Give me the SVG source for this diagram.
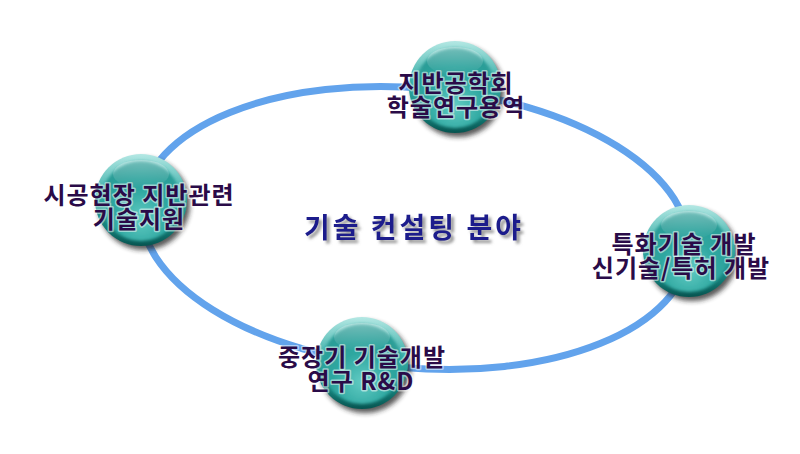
<svg xmlns="http://www.w3.org/2000/svg" width="800" height="454" viewBox="0 0 800 454">
<defs>
  <linearGradient id="rim" x1="0" y1="0" x2="0" y2="1">
    <stop offset="0" stop-color="#B4E8E4"/>
    <stop offset="0.45" stop-color="#35ADA6"/>
    <stop offset="0.8" stop-color="#147E78"/>
    <stop offset="1" stop-color="#075450"/>
  </linearGradient>
  <radialGradient id="face" cx="0.5" cy="0.72" r="0.65">
    <stop offset="0" stop-color="#62CBC3"/>
    <stop offset="0.55" stop-color="#2EA7A0"/>
    <stop offset="1" stop-color="#2A9C96"/>
  </radialGradient>
  <linearGradient id="gloss" x1="0" y1="0" x2="0" y2="1">
    <stop offset="0" stop-color="#FFFFFF" stop-opacity="0.35"/>
    <stop offset="1" stop-color="#FFFFFF" stop-opacity="0"/>
  </linearGradient>
  <filter id="blur" x="-30%" y="-30%" width="160%" height="160%">
    <feGaussianBlur stdDeviation="2.5"/>
  </filter>
  <filter id="inner" x="-20%" y="-20%" width="140%" height="140%">
    <feGaussianBlur stdDeviation="1.5"/>
  </filter>
  <filter id="tshadow" x="-10%" y="-30%" width="120%" height="160%">
    <feDropShadow dx="3" dy="3" stdDeviation="1.5" flood-color="#8A8A8A" flood-opacity="0.9"/>
  </filter>
  <g id="ball">
    <circle cx="3" cy="4" r="46" fill="#222" opacity="0.75" filter="url(#blur)"/>
    <circle cx="0" cy="0" r="46" fill="url(#rim)"/>
    <circle cx="0" cy="1" r="40" fill="url(#face)" filter="url(#inner)"/>
    <ellipse cx="0" cy="-26" rx="28" ry="14" fill="url(#gloss)"/>
  </g>
</defs>
<style>
  .lbl { font-family: "Noto Sans CJK KR", "Noto Sans", sans-serif; font-weight: 700; font-size: 24px; letter-spacing: 1px; fill: #2A0B48; text-anchor: middle; stroke: #FFFFFF; stroke-opacity: 0.5; stroke-width: 3; paint-order: stroke; stroke-linejoin: round; }
  .title { font-family: "Noto Sans CJK KR", "Noto Sans", sans-serif; font-weight: 700; font-size: 28px; letter-spacing: 3px; fill: #1A1A8C; text-anchor: middle; }
</style>
<rect width="800" height="454" fill="#FFFFFF"/>
<g id="connectors">
  <ellipse cx="415" cy="228" rx="275" ry="140" transform="rotate(5 415 228)" fill="none" stroke="#62A3EC" stroke-width="7"/>
</g>
<g id="node-top">
  <use href="#ball" x="455" y="87"/>
  <text class="lbl" x="456" y="92">지반공학회</text>
  <text class="lbl" x="456" y="116">학술연구용역</text>
</g>
<g id="node-left">
  <use href="#ball" x="141" y="200"/>
  <text class="lbl" x="139" y="204">시공현장 지반관련</text>
  <text class="lbl" x="139" y="228">기술지원</text>
</g>
<g id="node-right">
  <use href="#ball" x="689" y="251"/>
  <text class="lbl" x="684" y="253">특화기술 개발</text>
  <text class="lbl" x="681" y="277">신기술/특허 개발</text>
</g>
<g id="node-bottom">
  <use href="#ball" x="362" y="363"/>
  <text class="lbl" x="362" y="366">중장기 기술개발</text>
  <text class="lbl" x="361" y="390">연구 R&amp;D</text>
</g>
<g id="center-label">
  <text class="title" x="414" y="238" filter="url(#tshadow)">기술 컨설팅 분야</text>
</g>
</svg>
